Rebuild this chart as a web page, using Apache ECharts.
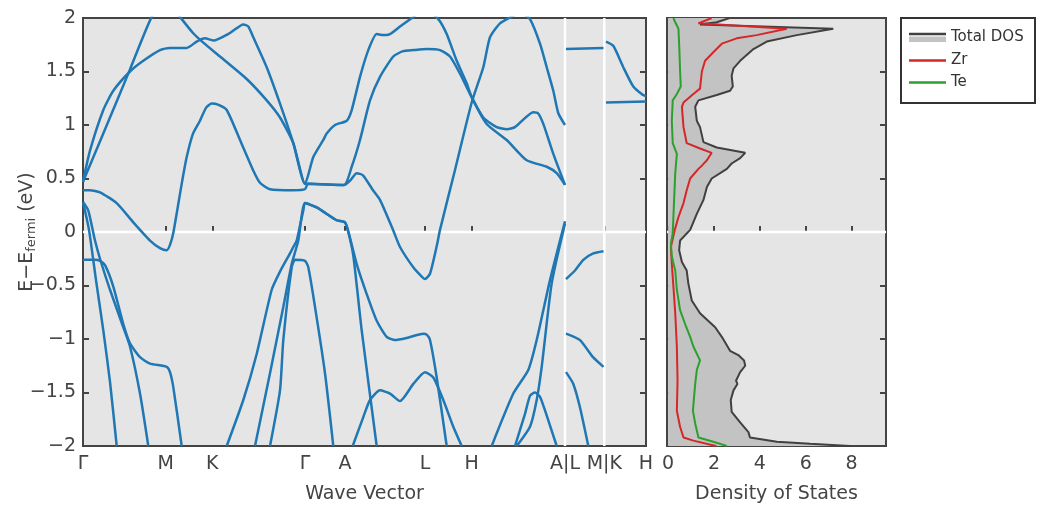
<!DOCTYPE html>
<html>
<head>
<meta charset="utf-8">
<title>Band structure and DOS</title>
<script src="https://cdn.jsdelivr.net/npm/echarts@6/dist/echarts.min.js"></script>
<style>
  html, body { margin: 0; padding: 0; background: #fff; }
  #chart { width: 1041px; height: 506px; }
</style>
</head>
<body>
<div id="chart"></div>
<script>
// path through the Brillouin zone
var kTicks = [0, 0.827, 1.293, 2.22, 2.62, 3.42, 3.887, 4.82, 5.213, 5.63];
var kLabels = ['Γ', 'M', 'K', 'Γ', 'A', 'L', 'H', 'A|L', 'M|K', 'H'];
var kBreaks = [4.82, 5.213];
var dosTicks = [0, 2, 4, 6, 8];

// bands as [k, E - Efermi]
var band1 = [[0, 0.39], [0.07, 0.39], [0.17, 0.37], [0.337, 0.27], [0.503, 0.09], [0.67, -0.08], [0.77, -0.15],
  [0.837, -0.17], [0.87, -0.12], [0.903, -0.01], [0.987, 0.45], [1.037, 0.70], [1.10, 0.92], [1.17, 1.04],
  [1.23, 1.16], [1.287, 1.20], [1.35, 1.19], [1.437, 1.14], [1.57, 0.86], [1.70, 0.58], [1.77, 0.46],
  [1.87, 0.40], [2.10, 0.39], [2.22, 0.40], [2.25, 0.45], [2.61, 0.44], [2.67, 0.48], [2.737, 0.55],
  [2.80, 0.53], [2.90, 0.39], [2.97, 0.30], [3.10, 0.02], [3.17, -0.14], [3.303, -0.33], [3.38, -0.41],
  [3.42, -0.44], [3.47, -0.39], [3.54, -0.12], [3.57, 0.02], [3.72, 0.58], [3.887, 1.21], [4.003, 1.54],
  [4.07, 1.82], [4.17, 1.95], [4.30, 2.02], [4.38, 2.05], [4.47, 1.99], [4.57, 1.76], [4.637, 1.54],
  [4.703, 1.32], [4.753, 1.11], [4.82, 1.0]];
var band2 = [[0, 0.47], [0.203, 0.92], [0.47, 1.52], [0.687, 2.01], [0.83, 2.18], [0.97, 2.01], [1.10, 1.86],
  [1.203, 1.77], [1.37, 1.64], [1.637, 1.43], [1.837, 1.23], [1.97, 1.07], [2.103, 0.83], [2.22, 0.45],
  [2.303, 0.70], [2.403, 0.86], [2.437, 0.92], [2.52, 1.00], [2.637, 1.04], [2.687, 1.14], [2.77, 1.45],
  [2.853, 1.70], [2.937, 1.85], [3.00, 1.84], [3.07, 1.85], [3.17, 1.92], [3.303, 2.01], [3.42, 2.09],
  [3.553, 1.99], [3.637, 1.85], [3.737, 1.60], [3.837, 1.39], [3.887, 1.26], [4.037, 1.01], [4.237, 0.86],
  [4.437, 0.67], [4.637, 0.61], [4.737, 0.55], [4.82, 0.44]];
var band3 = [[0, 0.47], [0.07, 0.76], [0.203, 1.14], [0.303, 1.32], [0.47, 1.50], [0.603, 1.60], [0.77, 1.70],
  [0.87, 1.72], [1.037, 1.72], [1.137, 1.78], [1.22, 1.81], [1.303, 1.79], [1.47, 1.86], [1.603, 1.94],
  [1.653, 1.92], [1.703, 1.82], [1.837, 1.54], [1.97, 1.20], [2.103, 0.83], [2.22, 0.45], [2.25, 0.45],
  [2.61, 0.44], [2.687, 0.61], [2.77, 0.86], [2.87, 1.23], [2.97, 1.45], [3.103, 1.64], [3.20, 1.69],
  [3.303, 1.70], [3.437, 1.71], [3.57, 1.70], [3.67, 1.64], [3.77, 1.48], [3.887, 1.26], [4.003, 1.07],
  [4.137, 0.98], [4.24, 0.96], [4.32, 0.98], [4.503, 1.12], [4.55, 1.11], [4.603, 1.01], [4.703, 0.73],
  [4.82, 0.44]];
var band4 = [[0, 0.28], [0.06, 0.02], [0.13, -0.45], [0.203, -0.92], [0.27, -1.40], [0.337, -2.0]];
var band5 = [[0, 0.28], [0.053, 0.20], [0.12, -0.08], [0.17, -0.25], [0.27, -0.54], [0.403, -0.89],
  [0.47, -1.07], [0.57, -1.51], [0.653, -2.0]];
var band6 = [[0, -0.26], [0.12, -0.26], [0.17, -0.27], [0.22, -0.31], [0.303, -0.51], [0.403, -0.86],
  [0.47, -1.04], [0.57, -1.17], [0.67, -1.23], [0.837, -1.26], [0.87, -1.31], [0.903, -1.45], [0.987, -2.0]];
var band7 = [[1.437, -2.0], [1.603, -1.57], [1.737, -1.14], [1.887, -0.54], [1.97, -0.37], [2.07, -0.20],
  [2.103, -0.14], [2.137, -0.08], [2.17, 0.06], [2.203, 0.20], [2.22, 0.27], [2.337, 0.23], [2.537, 0.11],
  [2.62, 0.09], [2.66, -0.02], [2.737, -0.30], [2.837, -0.58], [2.937, -0.83], [3.037, -0.98], [3.12, -1.01],
  [3.237, -0.99], [3.403, -0.95], [3.437, -0.96], [3.47, -1.01], [3.537, -1.36], [3.637, -2.0]];
var band8 = [[1.72, -2.0], [1.87, -1.32], [2.003, -0.70], [2.087, -0.30], [2.153, -0.08], [2.22, 0.27],
  [2.337, 0.23], [2.537, 0.11], [2.62, 0.09], [2.653, 0.0], [2.703, -0.22], [2.787, -0.92], [2.937, -2.0]];
var band9 = [[1.87, -2.0], [1.97, -1.48], [2.003, -1.01], [2.087, -0.33], [2.12, -0.26], [2.22, -0.27],
  [2.253, -0.33], [2.32, -0.70], [2.42, -1.32], [2.503, -2.0]];
var band10 = [[2.697, -2.0], [2.803, -1.73], [2.87, -1.57], [2.97, -1.48], [3.07, -1.51], [3.17, -1.58],
  [3.303, -1.42], [3.42, -1.31], [3.503, -1.36], [3.603, -1.57], [3.703, -1.82], [3.787, -2.0]];
var band11 = [[4.087, -2.0], [4.303, -1.51], [4.453, -1.29], [4.537, -1.01], [4.67, -0.45], [4.82, 0.1]];
var band12 = [[4.337, -2.0], [4.47, -1.82], [4.537, -1.57], [4.587, -1.26], [4.687, -0.48], [4.82, 0.08]];
var band13 = [[4.32, -2.0], [4.42, -1.70], [4.47, -1.53], [4.52, -1.50], [4.57, -1.54], [4.653, -1.76],
  [4.737, -2.0]];
// L - M segment
var band14 = [[4.83, -0.44], [4.92, -0.36], [5.003, -0.26], [5.103, -0.20], [5.205, -0.18]];
var band15 = [[4.83, -0.95], [4.97, -1.01], [5.10, -1.17], [5.205, -1.26]];
var band16 = [[4.83, -1.31], [4.903, -1.42], [4.97, -1.64], [5.053, -2.0]];
var band17 = [[4.83, 1.71], [5.205, 1.72]];
// K - H segment
var band18 = [[5.23, 1.78], [5.303, 1.74], [5.403, 1.54], [5.503, 1.36], [5.60, 1.28], [5.63, 1.27]];
var band19 = [[5.23, 1.21], [5.63, 1.22]];

// density of states as [states/eV, E - Efermi]
var totalDos = [[2.68, 2.0], [2.12, 1.96], [1.39, 1.94], [7.2, 1.9], [5.61, 1.84], [4.3, 1.78], [3.72, 1.71],
  [3.14, 1.6], [2.85, 1.53], [2.77, 1.46], [2.82, 1.36], [2.7, 1.32], [2.12, 1.28], [1.32, 1.23], [1.18, 1.17],
  [1.25, 1.04], [1.39, 0.98], [1.54, 0.84], [2.12, 0.79], [3.36, 0.74], [3.14, 0.69], [2.77, 0.64],
  [2.56, 0.59], [1.9, 0.5], [1.69, 0.42], [1.54, 0.3], [1.25, 0.17], [0.96, 0.02], [0.52, -0.08],
  [0.48, -0.17], [0.6, -0.28], [0.81, -0.36], [0.88, -0.48], [1.03, -0.64], [1.39, -0.76], [2.05, -0.89],
  [2.34, -0.98], [2.7, -1.11], [3.06, -1.15], [3.31, -1.2], [3.36, -1.25], [3.14, -1.31], [2.96, -1.39],
  [3.02, -1.42], [2.85, -1.48], [2.73, -1.57], [2.77, -1.68], [3.14, -1.78], [3.5, -1.87], [3.57, -1.92],
  [4.74, -1.96], [6.19, -1.98], [7.93, -2.0]];
var zrDos = [[1.9, 2.0], [1.32, 1.95], [5.17, 1.9], [3.86, 1.84], [2.99, 1.81], [2.34, 1.76], [1.97, 1.68],
  [1.61, 1.6], [1.47, 1.5], [1.39, 1.34], [1.1, 1.29], [0.67, 1.21], [0.6, 1.17], [0.67, 0.98], [0.81, 0.83],
  [1.39, 0.78], [1.9, 0.74], [1.69, 0.67], [1.47, 0.62], [1.32, 0.59], [0.96, 0.5], [0.81, 0.39],
  [0.67, 0.27], [0.45, 0.14], [0.29, 0.02], [0.12, -0.14], [0.16, -0.3], [0.23, -0.51], [0.31, -0.76],
  [0.38, -1.07], [0.41, -1.39], [0.38, -1.67], [0.52, -1.82], [0.67, -1.92], [1.1, -1.95], [1.9, -1.99],
  [2.1, -2.0]];
var teDos = [[0.23, 2.0], [0.31, 1.96], [0.45, 1.9], [0.49, 1.7], [0.52, 1.51], [0.55, 1.36], [0.38, 1.29],
  [0.2, 1.23], [0.16, 1.04], [0.2, 0.83], [0.38, 0.73], [0.31, 0.55], [0.26, 0.3], [0.2, -0.01],
  [0.12, -0.11], [0.16, -0.23], [0.31, -0.36], [0.38, -0.54], [0.52, -0.73], [0.74, -0.86], [0.96, -0.98],
  [1.1, -1.07], [1.39, -1.2], [1.25, -1.29], [1.18, -1.42], [1.08, -1.67], [1.18, -1.79], [1.32, -1.92],
  [1.97, -1.96], [2.56, -2.0]];

var allBands = [band1, band2, band3, band4, band5, band6, band7, band8, band9, band10,
  band11, band12, band13, band14, band15, band16, band17, band18, band19];

var kRange = [0, 5.63];
var dosRange = [-0.05, 9.5];
var eRange = [-2, 2];

var font = 'DejaVu Sans';
var ink = '#444';

var chart = echarts.init(document.getElementById('chart'), null, { renderer: 'canvas' });

function energyLabel(v) {
  return v < 0 ? '\u2212' + (-v) : String(v);
}

function frameY(pos, labels, gridIndex) {
  return {
    type: 'value', gridIndex: gridIndex, position: pos, min: eRange[0], max: eRange[1], interval: 0.5,
    axisLine: { show: false },
    axisTick: { show: true, inside: true, length: 6, lineStyle: { color: ink, width: 2 } },
    axisLabel: { show: labels, color: ink, fontFamily: font, fontSize: 19, margin: 7, formatter: energyLabel },
    splitLine: { show: false }
  };
}

function whiteSeg(api, a, b) {
  var p = api.coord(a), q = api.coord(b);
  return { type: 'line', z2: 0, shape: { x1: p[0], y1: p[1], x2: q[0], y2: q[1] },
    style: { stroke: '#fff', lineWidth: 2.5 } };
}

var series = [
  {
    // white zero line and path breaks, under the bands
    type: 'custom', xAxisIndex: 0, yAxisIndex: 0, data: [[0, 0]], z: 1, silent: true,
    renderItem: function (params, api) {
      var kids = [whiteSeg(api, [kRange[0], 0], [kRange[1], 0])];
      kBreaks.forEach(function (k) { kids.push(whiteSeg(api, [k, eRange[0]], [k, eRange[1]])); });
      return { type: 'group', children: kids };
    }
  },
  {
    // zero line, then the filled total DOS on top of it
    type: 'custom', xAxisIndex: 1, yAxisIndex: 2, data: [[0, 0]], z: 2, silent: true,
    renderItem: function (params, api) {
      var pts = [[0, eRange[1]]].concat(totalDos, [[0, eRange[0]]]).map(function (p) { return api.coord(p); });
      return { type: 'group', children: [
        whiteSeg(api, [dosRange[0], 0], [dosRange[1], 0]),
        { type: 'polygon', z2: 10, shape: { points: pts }, style: { fill: '#c3c3c3' } }
      ] };
    }
  },
  {
    name: 'Total DOS', type: 'line', xAxisIndex: 1, yAxisIndex: 2, data: totalDos, z: 4,
    showSymbol: false, silent: true, lineStyle: { color: '#404040', width: 2 }
  },
  {
    name: 'Zr', type: 'line', xAxisIndex: 1, yAxisIndex: 2, data: zrDos, z: 5,
    showSymbol: false, silent: true, lineStyle: { color: '#d62728', width: 2 }
  },
  {
    name: 'Te', type: 'line', xAxisIndex: 1, yAxisIndex: 2, data: teDos, z: 5,
    showSymbol: false, silent: true, lineStyle: { color: '#2ca02c', width: 2 }
  }
];

allBands.forEach(function (b) {
  series.push({
    type: 'line', xAxisIndex: 0, yAxisIndex: 0, data: b, z: 3,
    showSymbol: false, silent: true, smooth: 0.2,
    lineStyle: { color: '#1f77b4', width: 2.5 }
  });
});

chart.setOption({
  animation: false,
  backgroundColor: '#fff',
  grid: [
    { left: 83, top: 18, width: 563, height: 428, show: true, backgroundColor: '#e5e5e5',
      borderColor: ink, borderWidth: 2, containLabel: false, outerBoundsMode: 'none' },
    { left: 667, top: 18, width: 219, height: 428, show: true, backgroundColor: '#e5e5e5',
      borderColor: ink, borderWidth: 2, containLabel: false, outerBoundsMode: 'none' }
  ],
  xAxis: [
    {
      type: 'value', gridIndex: 0, min: kRange[0], max: kRange[1],
      name: 'Wave Vector', nameLocation: 'middle', nameGap: 39, nameMoveOverlap: false,
      nameTextStyle: { color: ink, fontFamily: font, fontSize: 19 },
      axisLine: { show: false },
      axisTick: { show: true, inside: true, length: 6, customValues: kTicks, lineStyle: { color: ink, width: 2 } },
      axisLabel: {
        color: ink, fontFamily: font, fontSize: 19, margin: 9, customValues: kTicks,
        formatter: function (v) {
          for (var i = 0; i < kTicks.length; i++) {
            if (Math.abs(kTicks[i] - v) < 1e-6) return kLabels[i];
          }
          return '';
        }
      },
      splitLine: { show: false }
    },
    {
      type: 'value', gridIndex: 1, min: dosRange[0], max: dosRange[1],
      name: 'Density of States', nameLocation: 'middle', nameGap: 39, nameMoveOverlap: false,
      nameTextStyle: { color: ink, fontFamily: font, fontSize: 19 },
      axisLine: { show: false },
      axisTick: { show: true, inside: true, length: 6, customValues: dosTicks, lineStyle: { color: ink, width: 2 } },
      axisLabel: { color: ink, fontFamily: font, fontSize: 19, margin: 9, customValues: dosTicks },
      splitLine: { show: false }
    }
  ],
  yAxis: [
    Object.assign(frameY('left', true, 0), {
      name: '{a|E\u2212E}{b|fermi}{a| (eV)}', nameLocation: 'middle', nameGap: 45, nameMoveOverlap: false,
      nameTextStyle: {
        color: ink, fontFamily: font, fontSize: 19,
        rich: {
          a: { color: ink, fontFamily: font, fontSize: 19, lineHeight: 22, verticalAlign: 'middle' },
          b: { color: ink, fontFamily: font, fontSize: 13, lineHeight: 22, verticalAlign: 'bottom' }
        }
      }
    }),
    frameY('right', false, 0),
    frameY('left', false, 1),
    frameY('right', false, 1)
  ],
  graphic: [
    { type: 'rect', left: 900, top: 17, shape: { width: 134, height: 85 },
      style: { fill: '#fff', stroke: '#333', lineWidth: 2 } },
    { type: 'rect', left: 909, top: 36.5, shape: { width: 37, height: 5.5 }, style: { fill: '#c3c3c3' } },
    { type: 'line', shape: { x1: 909, y1: 34, x2: 946, y2: 34 }, style: { stroke: '#404040', lineWidth: 2.5 } },
    { type: 'line', shape: { x1: 909, y1: 60.5, x2: 946, y2: 60.5 }, style: { stroke: '#d62728', lineWidth: 2.5 } },
    { type: 'line', shape: { x1: 909, y1: 82.5, x2: 946, y2: 82.5 }, style: { stroke: '#2ca02c', lineWidth: 2.5 } },
    { type: 'text', left: 951, top: 30, style: { text: 'Total DOS', fill: '#333', font: '15px "DejaVu Sans"' } },
    { type: 'text', left: 951, top: 53, style: { text: 'Zr', fill: '#333', font: '15px "DejaVu Sans"' } },
    { type: 'text', left: 951, top: 75, style: { text: 'Te', fill: '#333', font: '15px "DejaVu Sans"' } }
  ],
  series: series
});
</script>
</body>
</html>
